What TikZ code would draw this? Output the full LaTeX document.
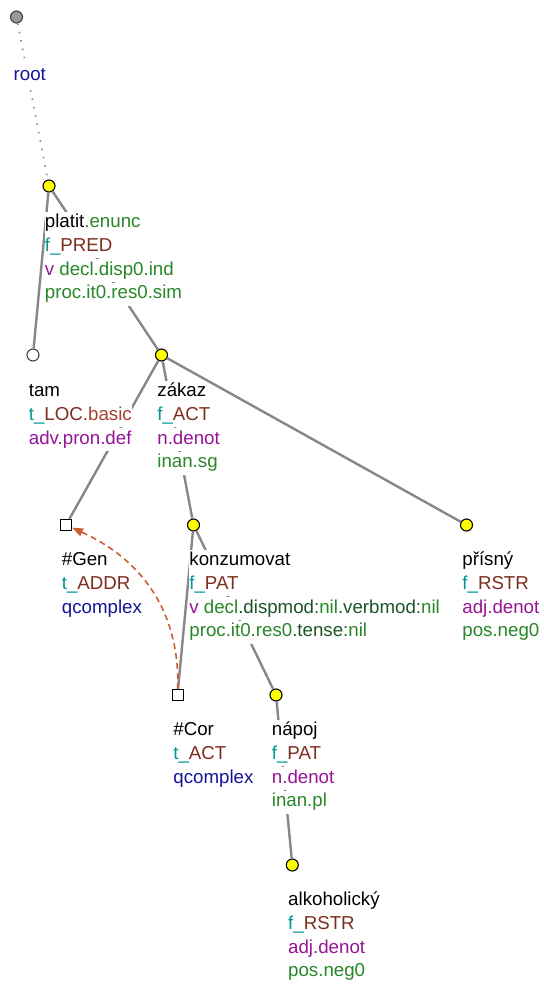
\documentclass[tikz,border=0pt]{standalone}
\usepackage{fontspec}
\setmainfont{Liberation Sans}
\usetikzlibrary{arrows.meta}
\definecolor{lem}{RGB}{0,0,0}
\definecolor{grn}{RGB}{40,135,40}
\definecolor{dgrn}{RGB}{30,85,40}
\definecolor{tealc}{RGB}{0,150,150}
\definecolor{brn}{RGB}{125,45,30}
\definecolor{brnl}{RGB}{165,65,45}
\definecolor{purp}{RGB}{150,20,150}
\definecolor{dblue}{RGB}{20,20,150}
\definecolor{edgec}{RGB}{135,135,135}
\definecolor{corefc}{RGB}{205,95,55}
\definecolor{yel}{RGB}{255,255,0}
\newcommand\tline[4]{\node[lbl] (#1) at ([shift={(-4.3,#3)}]#2) {#4};}
\begin{document}
\begin{tikzpicture}[x=1pt,y=-1pt,
  lbl/.style={anchor=base west, fill=white, inner xsep=0pt, inner ysep=0pt,
    text height=16pt, text depth=7pt, font=\fontsize{18.7}{22}\selectfont},
  ynode/.style={circle, draw=black, fill=yel, line width=1.1pt, minimum size=12pt, inner sep=0pt},
  wnode/.style={circle, draw=black!75, fill=white, line width=1.1pt, minimum size=12pt, inner sep=0pt},
  rnode/.style={circle, draw=black!75, fill=black!40, line width=1.1pt, minimum size=12pt, inner sep=0pt},
  snode/.style={rectangle, draw=black, fill=white, line width=1pt, minimum size=11pt, inner sep=0pt},
  tedge/.style={draw=edgec, line width=2.4pt},
  redge/.style={draw=edgec, line width=1.6pt, dash pattern=on 1.5pt off 7pt},
  coref/.style={draw=corefc, line width=1.6pt, dash pattern=on 6pt off 4pt,
    -{Triangle[length=11pt,width=8pt]}}]
\useasboundingbox (0,0) rectangle (543,987);
% tree nodes
\node[rnode] (root) at (16.5,17) {};
\node[ynode] (platit) at (49,186) {};
\node[wnode] (tam) at (33,355) {};
\node[ynode] (zakaz) at (161.5,355) {};
\node[snode] (gen) at (66,525) {};
\node[ynode] (konz) at (193.5,525) {};
\node[ynode] (prisny) at (466.5,525) {};
\node[snode] (cor) at (177.5,695) {};
\node[ynode] (napoj) at (276,695) {};
\node[ynode] (alko) at (292.3,865) {};
% edges
\draw[redge] (root) -- (platit);
\draw[tedge] (platit) -- (tam);
\draw[tedge] (platit) -- (zakaz);
\draw[tedge] (zakaz) -- (gen);
\draw[tedge] (zakaz) -- (konz);
\draw[tedge] (zakaz) -- (prisny);
\draw[tedge] (konz) -- (cor);
\draw[tedge] (konz) -- (napoj);
\draw[tedge] (napoj) -- (alko);
% labels
\node[lbl] (rootl) at (13.5,81) {\color{dblue}root};
\tline{platit1}{platit}{41.5}{\color{lem}platit\color{grn}.enunc}
\tline{platit2}{platit}{65.3}{\color{tealc}f\_\color{brn}PRED}
\tline{platit3}{platit}{89.1}{\color{purp}v \color{grn}decl.disp0.ind}
\tline{platit4}{platit}{112.9}{\color{grn}proc.it0.res0.sim}
\tline{tam1}{tam}{41.5}{\color{lem}tam}
\tline{tam2}{tam}{65.3}{\color{tealc}t\_\color{brn}LOC.\color{brnl}basic}
\tline{tam3}{tam}{89.1}{\color{purp}adv.pron.def}
\tline{zakaz1}{zakaz}{41.5}{\color{lem}zákaz}
\tline{zakaz2}{zakaz}{65.3}{\color{tealc}f\_\color{brn}ACT}
\tline{zakaz3}{zakaz}{89.1}{\color{purp}n.denot}
\tline{zakaz4}{zakaz}{112.9}{\color{grn}inan.sg}
\tline{gen1}{gen}{40.5}{\color{lem}\#Gen}
\tline{gen2}{gen}{64.3}{\color{tealc}t\_\color{brn}ADDR}
\tline{gen3}{gen}{88.1}{\color{dblue}qcomplex}
\tline{konz1}{konz}{40.5}{\color{lem}konzumovat}
\tline{konz2}{konz}{64.3}{\color{tealc}f\_\color{brn}PAT}
\tline{konz3}{konz}{88.1}{\color{purp}v \color{grn}decl\color{dgrn}.dispmod:\color{grn}nil\color{dgrn}.verbmod:\color{grn}nil}
\tline{konz4}{konz}{111.9}{\color{grn}proc.it0.res0\color{dgrn}.tense:\color{grn}nil}
\tline{prisny1}{prisny}{40.5}{\color{lem}přísný}
\tline{prisny2}{prisny}{64.3}{\color{tealc}f\_\color{brn}RSTR}
\tline{prisny3}{prisny}{88.1}{\color{purp}adj.denot}
\tline{prisny4}{prisny}{111.9}{\color{grn}pos.neg0}
\tline{cor1}{cor}{40.5}{\color{lem}\#Cor}
\tline{cor2}{cor}{64.3}{\color{tealc}t\_\color{brn}ACT}
\tline{cor3}{cor}{88.1}{\color{dblue}qcomplex}
\tline{napoj1}{napoj}{40.5}{\color{lem}nápoj}
\tline{napoj2}{napoj}{64.3}{\color{tealc}f\_\color{brn}PAT}
\tline{napoj3}{napoj}{88.1}{\color{purp}n.denot}
\tline{napoj4}{napoj}{111.9}{\color{grn}inan.pl}
\tline{alko1}{alko}{40.5}{\color{lem}alkoholický}
\tline{alko2}{alko}{64.3}{\color{tealc}f\_\color{brn}RSTR}
\tline{alko3}{alko}{88.1}{\color{purp}adj.denot}
\tline{alko4}{alko}{111.9}{\color{grn}pos.neg0}
% coreference arrow
\draw[coref] (cor) .. controls (180,615) and (145,561) .. (gen);
\end{tikzpicture}
\end{document}
